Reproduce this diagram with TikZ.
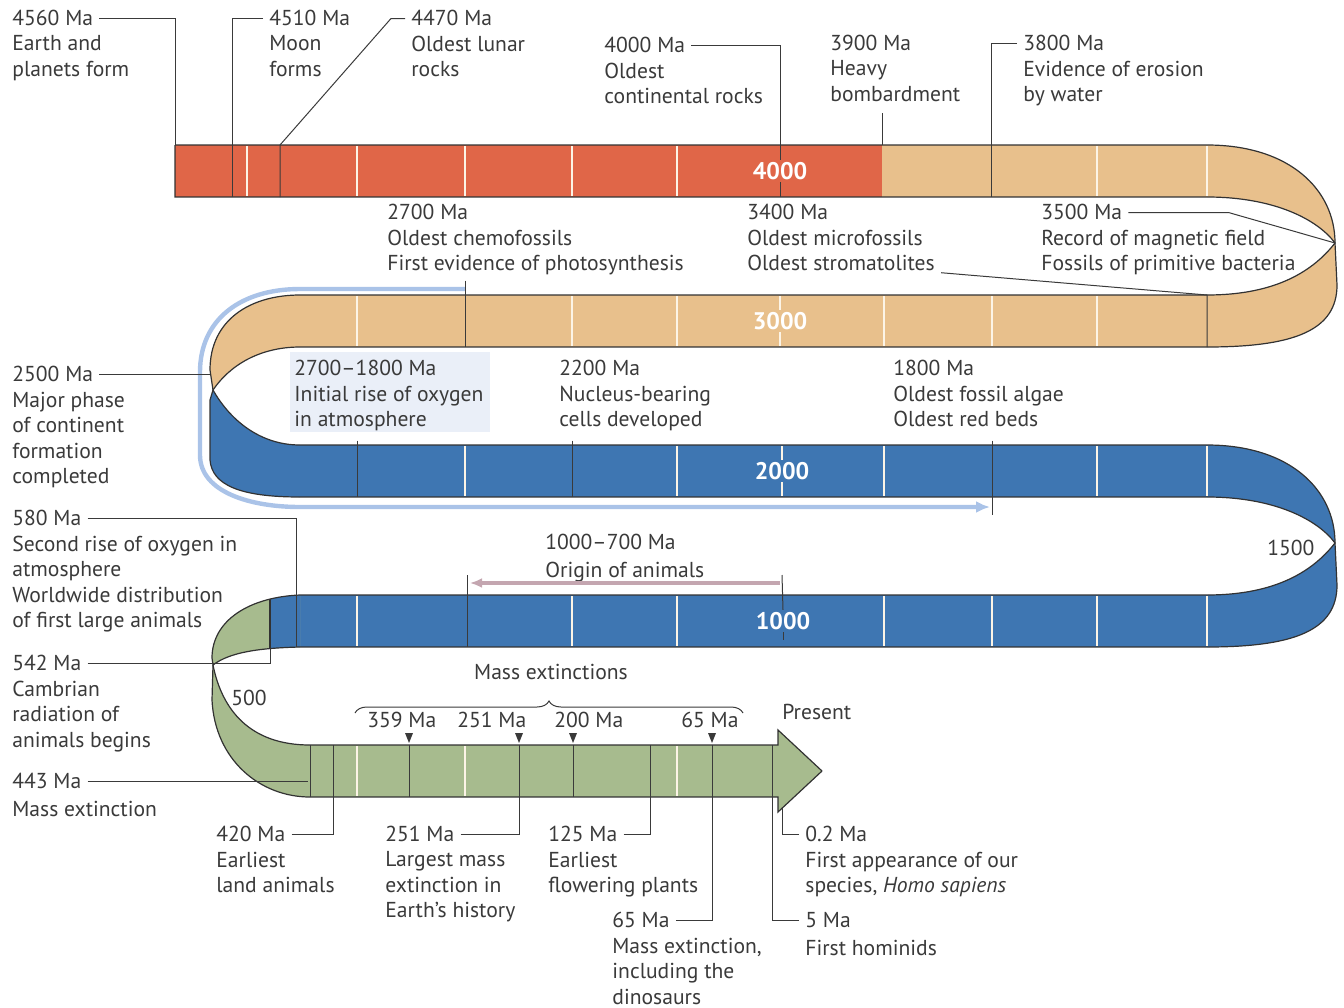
\documentclass[tikz,border=0pt]{standalone}
\usepackage{fontspec}
\setmainfont{PT Sans}
\usetikzlibrary{arrows.meta,positioning,decorations.pathreplacing}
\definecolor{ink}{RGB}{58,58,58}
\definecolor{rimc}{RGB}{50,50,50}
\definecolor{redband}{RGB}{224,102,72}
\definecolor{tanband}{RGB}{232,192,140}
\definecolor{blueband}{RGB}{62,118,178}
\definecolor{greenband}{RGB}{167,187,142}
\definecolor{tickline}{RGB}{252,244,230}
\definecolor{halo}{RGB}{170,195,232}
\definecolor{halofill}{RGB}{234,239,248}
\definecolor{mauve}{RGB}{196,166,176}
\newcommand{\lblfont}{\fontsize{10.8}{12.75}\selectfont}

\begin{document}
\begin{tikzpicture}[x=0.5pt, y=-0.5pt,
  date/.style={font=\lblfont, text=ink, inner sep=0pt, text height=7.5pt, text depth=1pt, anchor=base west},
  body/.style={font=\lblfont, text=ink, inner sep=0pt, align=left, execute at begin node=\strut},
  lead/.style={draw=ink, line width=0.5pt},
  rim/.style={draw=rimc, line width=0.6pt},
  tick/.style={draw=tickline, line width=0.9pt},
  bandno/.style={font=\fontsize{12}{12}\selectfont\bfseries, text=white, inner sep=1pt}
]
\useasboundingbox (0,0) rectangle (1344,1007);

% where the labels meet the ribbon
\coordinate (c4560) at (175,145);
\coordinate (c4510) at (232,197);
\coordinate (c4470) at (280,145);
\coordinate (c4000) at (780,197);
\coordinate (c3900) at (882,145);
\coordinate (c3800) at (991,197);
\coordinate (c2700) at (465,347);
\coordinate (c3400) at (1207,295);
\coordinate (c3500) at (1335,243);
\coordinate (c2500) at (210,374);
\coordinate (c2718) at (357,497);
\coordinate (c2200) at (572,497);
\coordinate (c1800) at (992,515);
\coordinate (c580) at (296,647);
\coordinate (a1000) at (782,575);
\coordinate (a700) at (467,575);
\coordinate (o1000) at (780,583);
\coordinate (o700) at (470,583);
\coordinate (c542) at (270,649);
\coordinate (c443) at (308,781);
\coordinate (c420) at (333,745);
\coordinate (m359) at (409,745);
\coordinate (c251) at (519,745);
\coordinate (m200) at (573,745);
\coordinate (c125) at (650,745);
\coordinate (c65) at (712,745);
\coordinate (c5) at (772,745);
\coordinate (c02) at (782,808);

% 2700-1800 Ma highlight
\fill[halofill] (290,352) rectangle (490,432);
\draw[halo, line width=2.2pt, -{Latex[length=7pt,width=6pt]}] (465,289) -- (300,289)
  .. controls (240,289) and (200,320) .. (200,372) -- (200,455)
  .. controls (200,492) and (250,507) .. (300,507) -- (990,507);

% ribbon
\fill[redband] (175,145) rectangle (882,197);
\fill[tanband] (882,145) rectangle (1207,197);
\fill[tanband] (300,295) rectangle (1207,347);
\fill[blueband] (300,445) rectangle (1207,497);
\fill[blueband] (300,595) rectangle (1207,647);
\fill[greenband] (310,745) rectangle (778,797);
\fill[greenband] (778,730) -- (822,771) -- (778,812) -- cycle;
\foreach \dy/\col in {0/tanband,300/blueband}{
  \begin{scope}[shift={(0,\dy)}]
    \fill[\col] (1207,145) .. controls (1290,145) and (1335,190) .. (1335,243)
      .. controls (1318,220) and (1275,197) .. (1207,197) -- cycle;
    \fill[\col] (1335,243) -- (1337,285) .. controls (1337,330) and (1295,347) .. (1207,347)
      -- (1207,295) .. controls (1270,295) and (1310,275) .. (1335,243) -- cycle;
  \end{scope}
}
\fill[tanband] (300,295) .. controls (250,295) and (210,320) .. (210,370) -- (213,390)
  .. controls (230,365) and (260,347) .. (300,347) -- cycle;
\fill[blueband] (213,390) -- (210,400) -- (210,460) .. controls (212,485) and (240,497) .. (300,497)
  -- (300,445) .. controls (260,445) and (230,420) .. (213,390) -- cycle;
\fill[greenband] (300,595) .. controls (250,597) and (212,620) .. (212,658) -- (213,665)
  .. controls (230,652) and (260,648) .. (300,647) -- cycle;
\begin{scope}
  \clip (300,595) .. controls (250,597) and (212,620) .. (212,658) -- (213,665)
    .. controls (230,652) and (260,648) .. (300,647) -- cycle;
  \fill[blueband] (270,590) rectangle (305,650);
\end{scope}
\fill[greenband] (213,665) -- (212,700) .. controls (215,760) and (260,797) .. (310,797)
  -- (310,745) .. controls (250,745) and (222,710) .. (213,665) -- cycle;

% century ticks
\foreach \x in {247,357,465,572,677,1097,1207} \draw[tick] (\x,146) -- (\x,196);
\foreach \x in {357,572,677,780,884,992,1097} \draw[tick] (\x,296) -- (\x,346);
\foreach \x in {465,677,782,884,1097,1207} \draw[tick] (\x,446) -- (\x,496);
\foreach \x in {357,572,677,884,992,1097,1207} \draw[tick] (\x,596) -- (\x,646);
\foreach \x in {357,465,677} \draw[tick] (\x,746) -- (\x,796);

% ribbon edges
\draw[rim] (175,145) -- (1207,145) .. controls (1290,145) and (1335,190) .. (1335,243)
  .. controls (1310,275) and (1270,295) .. (1207,295) -- (300,295)
  .. controls (250,295) and (210,320) .. (210,370) -- (213,390)
  .. controls (230,420) and (260,445) .. (300,445) -- (1207,445)
  .. controls (1290,445) and (1335,490) .. (1335,543)
  .. controls (1310,575) and (1270,595) .. (1207,595) -- (300,595)
  .. controls (250,597) and (212,620) .. (212,658) -- (213,665)
  .. controls (222,710) and (250,745) .. (310,745) -- (778,745) -- (778,730) -- (822,771);
\draw[rim] (175,145) -- (175,197) -- (1207,197) .. controls (1275,197) and (1318,220) .. (1335,243)
  -- (1337,285) .. controls (1337,330) and (1295,347) .. (1207,347) -- (300,347)
  .. controls (260,347) and (230,365) .. (213,390) -- (210,400) -- (210,460)
  .. controls (212,485) and (240,497) .. (300,497) -- (1207,497)
  .. controls (1275,497) and (1318,520) .. (1335,543)
  -- (1337,585) .. controls (1337,630) and (1295,647) .. (1207,647) -- (300,647)
  .. controls (260,648) and (230,652) .. (213,665) -- (212,700)
  .. controls (215,760) and (260,797) .. (310,797) -- (778,797) -- (778,812) -- (822,771);
\draw[rim] (270,599) -- (c542);
\draw[lead] (310,745) -- (310,797);

% band numbers
\node[bandno, fill=redband] (l4000) at (780,171) {4000};
\node[bandno, fill=tanband] (l3000) at (780,321) {3000};
\node[bandno, fill=blueband] (l2000) at (782,471) {2000};
\node[bandno, fill=blueband] (l1000) at (783,621) {1000};
\node[date] (l1500) at (1267,555) {1500};
\node[date] (l500) at (231,705) {500};

% labels above the first row
\node[date] (d4560) at (12,25) {4560 Ma};
\node[body, below=4pt of d4560.south west, anchor=north west] (n4560) {Earth and\\planets form};
\node[date] (d4510) at (269,25) {4510 Ma};
\node[body, below=4pt of d4510.south west, anchor=north west] (n4510) {Moon\\forms};
\node[date] (d4470) at (411,25) {4470 Ma};
\node[body, below=4pt of d4470.south west, anchor=north west] (n4470) {Oldest lunar\\rocks};
\node[date] (d4000) at (604,52) {4000 Ma};
\node[body, below=4pt of d4000.south west, anchor=north west] (n4000) {Oldest\\continental rocks};
\node[date] (d3900) at (830,50) {3900 Ma};
\node[body, below=4pt of d3900.south west, anchor=north west] (n3900) {Heavy\\bombardment};
\node[date] (d3800) at (1023,50) {3800 Ma};
\node[body, below=4pt of d3800.south west, anchor=north west] (n3800) {Evidence of erosion\\by water};

% labels between the rows
\node[date] (d2700) at (387,219) {2700 Ma};
\node[body, below=4pt of d2700.south west, anchor=north west] (n2700) {Oldest chemofossils\\First evidence of photosynthesis};
\node[date] (d3400) at (747,219) {3400 Ma};
\node[body, below=4pt of d3400.south west, anchor=north west] (n3400) {Oldest microfossils\\Oldest stromatolites};
\node[date] (d3500) at (1041,219) {3500 Ma};
\node[body, below=4pt of d3500.south west, anchor=north west] (n3500) {Record of magnetic field\\Fossils of primitive bacteria};
\node[date] (d2718) at (294,375) {2700--1800 Ma};
\node[body, below=4pt of d2718.south west, anchor=north west] (n2718) {Initial rise of oxygen\\in atmosphere};
\node[date] (d2200) at (559,375) {2200 Ma};
\node[body, below=4pt of d2200.south west, anchor=north west] (n2200) {Nucleus-bearing\\cells developed};
\node[date] (d1800) at (893,375) {1800 Ma};
\node[body, below=4pt of d1800.south west, anchor=north west] (n1800) {Oldest fossil algae\\Oldest red beds};
\node[date] (d1007) at (545,549) {1000--700 Ma};
\node[body, below=4pt of d1007.south west, anchor=north west] (n1007) {Origin of animals};

% labels on the left
\node[date] (d2500) at (12,381) {2500 Ma};
\node[body, below=4pt of d2500.south west, anchor=north west] (n2500) {Major phase\\of continent\\formation\\completed};
\node[date] (d580) at (12,525) {580 Ma};
\node[body, below=4pt of d580.south west, anchor=north west] (n580) {Second rise of oxygen in\\atmosphere\\Worldwide distribution\\of first large animals};
\node[date] (d542) at (12,670) {542 Ma};
\node[body, below=4pt of d542.south west, anchor=north west] (n542) {Cambrian\\radiation of\\animals begins};
\node[date] (d443) at (12,788) {443 Ma};
\node[body, below=4pt of d443.south west, anchor=north west] (n443) {Mass extinction};

% mass extinctions
\node[date, anchor=base] (mass) at (551,679) {Mass extinctions};
\draw[ink, line width=0.5pt, decorate, decoration={brace, amplitude=6pt}] (355,713) -- (743,713);
\node[date] (e359) at (367,727) {359 Ma};
\node[date] (e251) at (457,727) {251 Ma};
\node[date] (e200) at (554,727) {200 Ma};
\node[date] (e65) at (681,727) {65 Ma};
\node[date] (present) at (782,719) {Present};
\foreach \x in {409,519,573,712} \fill[ink] (\x-4,733) -- (\x+4,733) -- (\x,743) -- cycle;

% labels below the last row
\node[date] (d420) at (216,841) {420 Ma};
\node[body, below=4pt of d420.south west, anchor=north west] (n420) {Earliest\\land animals};
\node[date] (d251) at (385,841) {251 Ma};
\node[body, below=4pt of d251.south west, anchor=north west] (n251) {Largest mass\\extinction in\\Earth’s history};
\node[date] (d125) at (548,841) {125 Ma};
\node[body, below=4pt of d125.south west, anchor=north west] (n125) {Earliest\\flowering plants};
\node[date] (d65) at (612,927) {65 Ma};
\node[body, below=4pt of d65.south west, anchor=north west] (n65) {Mass extinction,\\including the\\dinosaurs};
\node[date] (d02) at (805,841) {0.2 Ma};
\node[body, below=4pt of d02.south west, anchor=north west] (n02) {First appearance of our\\species, \emph{Homo sapiens}};
\node[date] (d5) at (805,927) {5 Ma};
\node[body, below=4pt of d5.south west, anchor=north west] (n5) {First hominids};

% leader lines
\draw[lead] ([xshift=3pt]d4560.east) -| (c4560);
\draw[lead] ([xshift=-3pt]d4510.west) -| (c4510);
\draw[lead] ([xshift=-3pt]d4470.west) -- ++(-14,0) -- (c4470) -- ++(0,52);
\draw[lead] ([xshift=3pt]d4000.east) -| (l4000.north);
\draw[lead] (l4000.south) -- (c4000);
\draw[lead] ([yshift=-2pt]n3900.south -| c3900) -- (c3900);
\draw[lead] ([xshift=-3pt]d3800.west) -| (c3800);
\draw[lead] ([yshift=-1pt]n2700.south -| c2700) -- (c2700);
\draw[lead] ([shift={(3pt,3pt)}]n3400.south east) -- (c3400) -- ++(0,52);
\draw[lead] ([xshift=3pt]d3500.east) -- ++(100,0) -- (c3500);
\draw[lead] ([xshift=3pt]d2500.east) -- (d2500.east -| c2500);
\draw[lead] ([yshift=-3pt]n2718.south -| c2718) -- (c2718);
\draw[lead] ([yshift=-3pt]n2200.south -| c2200) -- (c2200);
\draw[lead] ([yshift=-3pt]n1800.south -| c1800) -- (c1800);
\draw[lead] ([xshift=3pt]d580.east) -| (c580);
\draw[lead] (a1000) -- (l1000.north);
\draw[lead] (l1000.south) -- +(0,8);
\draw[lead] (a700) -- +(0,72);
\draw[mauve, line width=1.6pt, -{Latex[length=6pt,width=5pt]}] (o1000) -- (o700);
\draw[lead] ([xshift=3pt]d542.east) -| (c542);
\draw[lead] ([xshift=3pt]d443.east) -- (d443.east -| c443);
\draw[lead] ([xshift=3pt]d420.east) -| (c420);
\draw[lead] (m359) -- +(0,52);
\draw[lead] ([xshift=3pt]d251.east) -| (c251);
\draw[lead] (m200) -- +(0,52);
\draw[lead] ([xshift=3pt]d125.east) -| (c125);
\draw[lead] ([xshift=3pt]d65.east) -| (c65);
\draw[lead] ([xshift=-3pt]d02.west) -| (c02);
\draw[lead] ([xshift=-3pt]d5.west) -| (c5);
\end{tikzpicture}
\end{document}
